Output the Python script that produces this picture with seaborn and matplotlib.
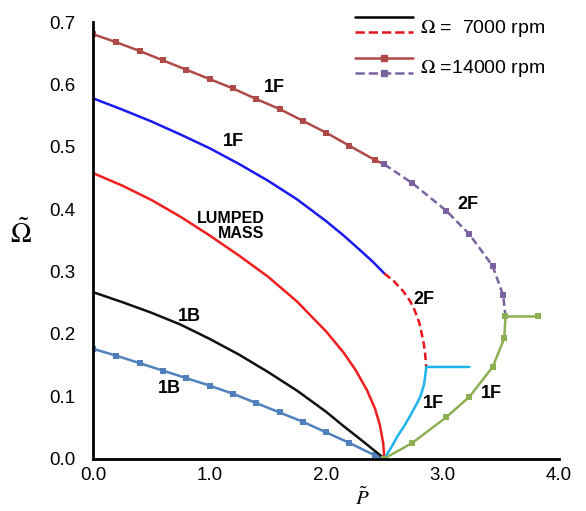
import numpy as np
import pandas as pd
import matplotlib
matplotlib.use("Agg")
import matplotlib.pyplot as plt
import seaborn as sns
from matplotlib.lines import Line2D
from matplotlib.legend_handler import HandlerBase
from matplotlib.ticker import MultipleLocator, FormatStrFormatter

# ---- data ----
# 14000 rpm, 1B (steel blue, markers)
b14_x = [0.0, 0.2, 0.4, 0.6, 0.8, 1.0, 1.2, 1.4, 1.6, 1.8, 2.0, 2.2, 2.42, 2.5]
b14_y = [0.176, 0.165, 0.153, 0.141, 0.129, 0.117, 0.104, 0.089, 0.074, 0.059, 0.042, 0.025, 0.005, 0.0]

# 7000 rpm, 1B (black)
b7_x = [0.0, 0.25, 0.5, 0.75, 1.0, 1.25, 1.5, 1.75, 2.0, 2.15, 2.3, 2.4, 2.5]
b7_y = [0.267, 0.251, 0.234, 0.215, 0.192, 0.167, 0.139, 0.109, 0.075, 0.052, 0.030, 0.015, 0.0]

# lumped mass (red)
lm_x = [0.0, 0.25, 0.5, 0.75, 1.0, 1.25, 1.5, 1.75, 2.0, 2.15, 2.25, 2.35, 2.42, 2.46, 2.49, 2.5]
lm_y = [0.458, 0.438, 0.415, 0.388, 0.358, 0.326, 0.292, 0.252, 0.204, 0.170, 0.143, 0.110, 0.080, 0.055, 0.025, 0.0]

# 7000 rpm, 1F (blue) and 2F (red dashed)
f7_x = [0.0, 0.25, 0.5, 0.75, 1.0, 1.25, 1.5, 1.75, 2.0, 2.15, 2.3, 2.4, 2.5]
f7_y = [0.578, 0.560, 0.541, 0.520, 0.498, 0.473, 0.446, 0.416, 0.381, 0.358, 0.333, 0.316, 0.297]
f7b_x = [2.5, 2.58, 2.66, 2.72, 2.76, 2.80, 2.82, 2.84, 2.85, 2.86]
f7b_y = [0.297, 0.285, 0.269, 0.253, 0.238, 0.218, 0.201, 0.183, 0.168, 0.147]

# 7000 rpm, 1F beyond buckling (cyan)
c7_x = [2.5, 2.56, 2.61, 2.67, 2.72, 2.77, 2.81, 2.84, 2.85, 2.86, 3.23]
c7_y = [0.0, 0.018, 0.035, 0.052, 0.068, 0.085, 0.100, 0.118, 0.131, 0.147, 0.147]

# 14000 rpm, 1F (brown, markers) and 2F (purple dashed, markers)
f14_x = [0.0, 0.2, 0.4, 0.6, 0.8, 1.0, 1.2, 1.4, 1.6, 1.8, 2.0, 2.2, 2.42, 2.5]
f14_y = [0.681, 0.668, 0.654, 0.639, 0.624, 0.609, 0.594, 0.577, 0.561, 0.542, 0.523, 0.502, 0.479, 0.472]
f14b_x = [2.5, 2.74, 3.03, 3.23, 3.43, 3.52, 3.54]
f14b_y = [0.472, 0.442, 0.398, 0.360, 0.309, 0.262, 0.228]

# 14000 rpm, 1F beyond buckling (green, markers)
g14_x = [2.5, 2.74, 3.03, 3.23, 3.43, 3.53, 3.54, 3.82]
g14_y = [0.0, 0.025, 0.066, 0.099, 0.147, 0.193, 0.228, 0.228]

labels = [("1F", 1.56, 0.596), ("1F", 1.20, 0.509), ("1B", 0.83, 0.228),
          ("1B", 0.65, 0.113), ("2F", 3.22, 0.408), ("2F", 2.84, 0.256),
          ("1F", 2.92, 0.089), ("1F", 3.42, 0.105)]


class StackedHandler(HandlerBase):
    """Legend handle drawing two line samples one above the other."""
    def create_artists(self, legend, orig_handle, xdescent, ydescent,
                       width, height, fontsize, trans):
        artists = []
        for h, yy in zip(orig_handle, (height * 1.0, height * 0.15)):
            y0 = yy - ydescent
            ln = Line2D([-xdescent, width - xdescent], [y0, y0],
                        color=h.get_color(), linestyle=h.get_linestyle(),
                        linewidth=h.get_linewidth(), transform=trans)
            artists.append(ln)
            if h.get_marker() not in (None, "None", "", " "):
                mk = Line2D([width / 2 - xdescent], [y0], marker=h.get_marker(),
                            markersize=h.get_markersize(), color=h.get_color(),
                            linestyle="none", transform=trans)
                artists.append(mk)
        return artists


def draw(ax, xs, ys, color, ls="-", marker=None):
    df = pd.DataFrame({"x": xs, "y": ys})
    sns.lineplot(data=df, x="x", y="y", ax=ax, color=color, linestyle=ls,
                 linewidth=1.8, marker=marker, markersize=4.5,
                 markeredgewidth=0, sort=False, estimator=None)
    return ax.lines[-1]


sns.set_style("white")
plt.rcParams["font.family"] = ["Liberation Sans", "DejaVu Sans"]
plt.rcParams["mathtext.fontset"] = "stix"
plt.rcParams["text.color"] = "black"
plt.rcParams["axes.labelcolor"] = "black"
plt.rcParams["xtick.color"] = "black"
plt.rcParams["ytick.color"] = "black"

fig = plt.figure(figsize=(5.86, 5.11), dpi=100)
ax = fig.add_axes([0.159, 0.1027, 0.795, 0.8535])

draw(ax, b14_x, b14_y, "#4F81BD", marker="s")
draw(ax, b7_x, b7_y, "#111111")
draw(ax, lm_x, lm_y, "#F01E1E")
draw(ax, f7_x, f7_y, "#1A1AF0")
draw(ax, f7b_x, f7b_y, "#E8141E", ls=(0, (3, 1.6)))
draw(ax, c7_x, c7_y, "#1EB4EB")
draw(ax, f14_x, f14_y, "#B04A48", marker="s")
draw(ax, f14b_x, f14b_y, "#7A62A0", ls=(0, (3, 1.6)), marker="s")
draw(ax, g14_x, g14_y, "#8DB055", marker="s")

for txt, x, y in labels:
    ax.text(x, y, txt, fontsize=13, fontweight="bold", ha="center", va="center")
ax.text(1.47, 0.373, "LUMPED\nMASS", fontsize=11.5, fontweight="bold",
        ha="right", va="center", multialignment="right", linespacing=0.95)

# legend
h7a = Line2D([], [], color="black", lw=1.8)
h7b = Line2D([], [], color="#E8141E", lw=1.8, ls=(0, (3, 1.6)))
h14a = Line2D([], [], color="#B04A48", lw=1.8, marker="s", ms=4.5, mew=0)
h14b = Line2D([], [], color="#7A62A0", lw=1.8, ls=(0, (3, 1.6)), marker="s", ms=4.5, mew=0)
ax.legend([(h7a, h7b), (h14a, h14b)],
          [r"$\Omega$ =  7000 rpm", r"$\Omega$ =14000 rpm"],
          handler_map={tuple: StackedHandler()}, loc="upper left",
          bbox_to_anchor=(0.562, 1.012), borderaxespad=0, borderpad=0,
          frameon=False, fontsize=14,
          handlelength=3.0, handletextpad=0.35, labelspacing=1.0,
          handleheight=1.0)

ax.set_xlim(0, 4.0)
ax.set_ylim(0, 0.7)
ax.xaxis.set_major_locator(MultipleLocator(1.0))
ax.xaxis.set_minor_locator(MultipleLocator(0.5))
ax.yaxis.set_major_locator(MultipleLocator(0.1))
ax.xaxis.set_major_formatter(FormatStrFormatter("%.1f"))
ax.yaxis.set_major_formatter(FormatStrFormatter("%.1f"))
ax.tick_params(axis="both", which="both", direction="in", length=5,
               width=1.5, color="black", labelcolor="black", labelsize=13.5)
ax.tick_params(axis="x", which="major", pad=6)
ax.tick_params(axis="y", which="major", pad=13)
sns.despine(ax=ax)
for side in ("left", "bottom"):
    ax.spines[side].set_linewidth(2)
    ax.spines[side].set_color("black")

ax.set_xlabel(r"$\tilde{P}$", fontsize=15)
ax.xaxis.set_label_coords(0.577, -0.064)
ax.set_ylabel(r"$\tilde{\Omega}$", fontsize=20, rotation=0)
ax.yaxis.set_label_coords(-0.155, 0.48)

fig.savefig("out.png", dpi=100)
